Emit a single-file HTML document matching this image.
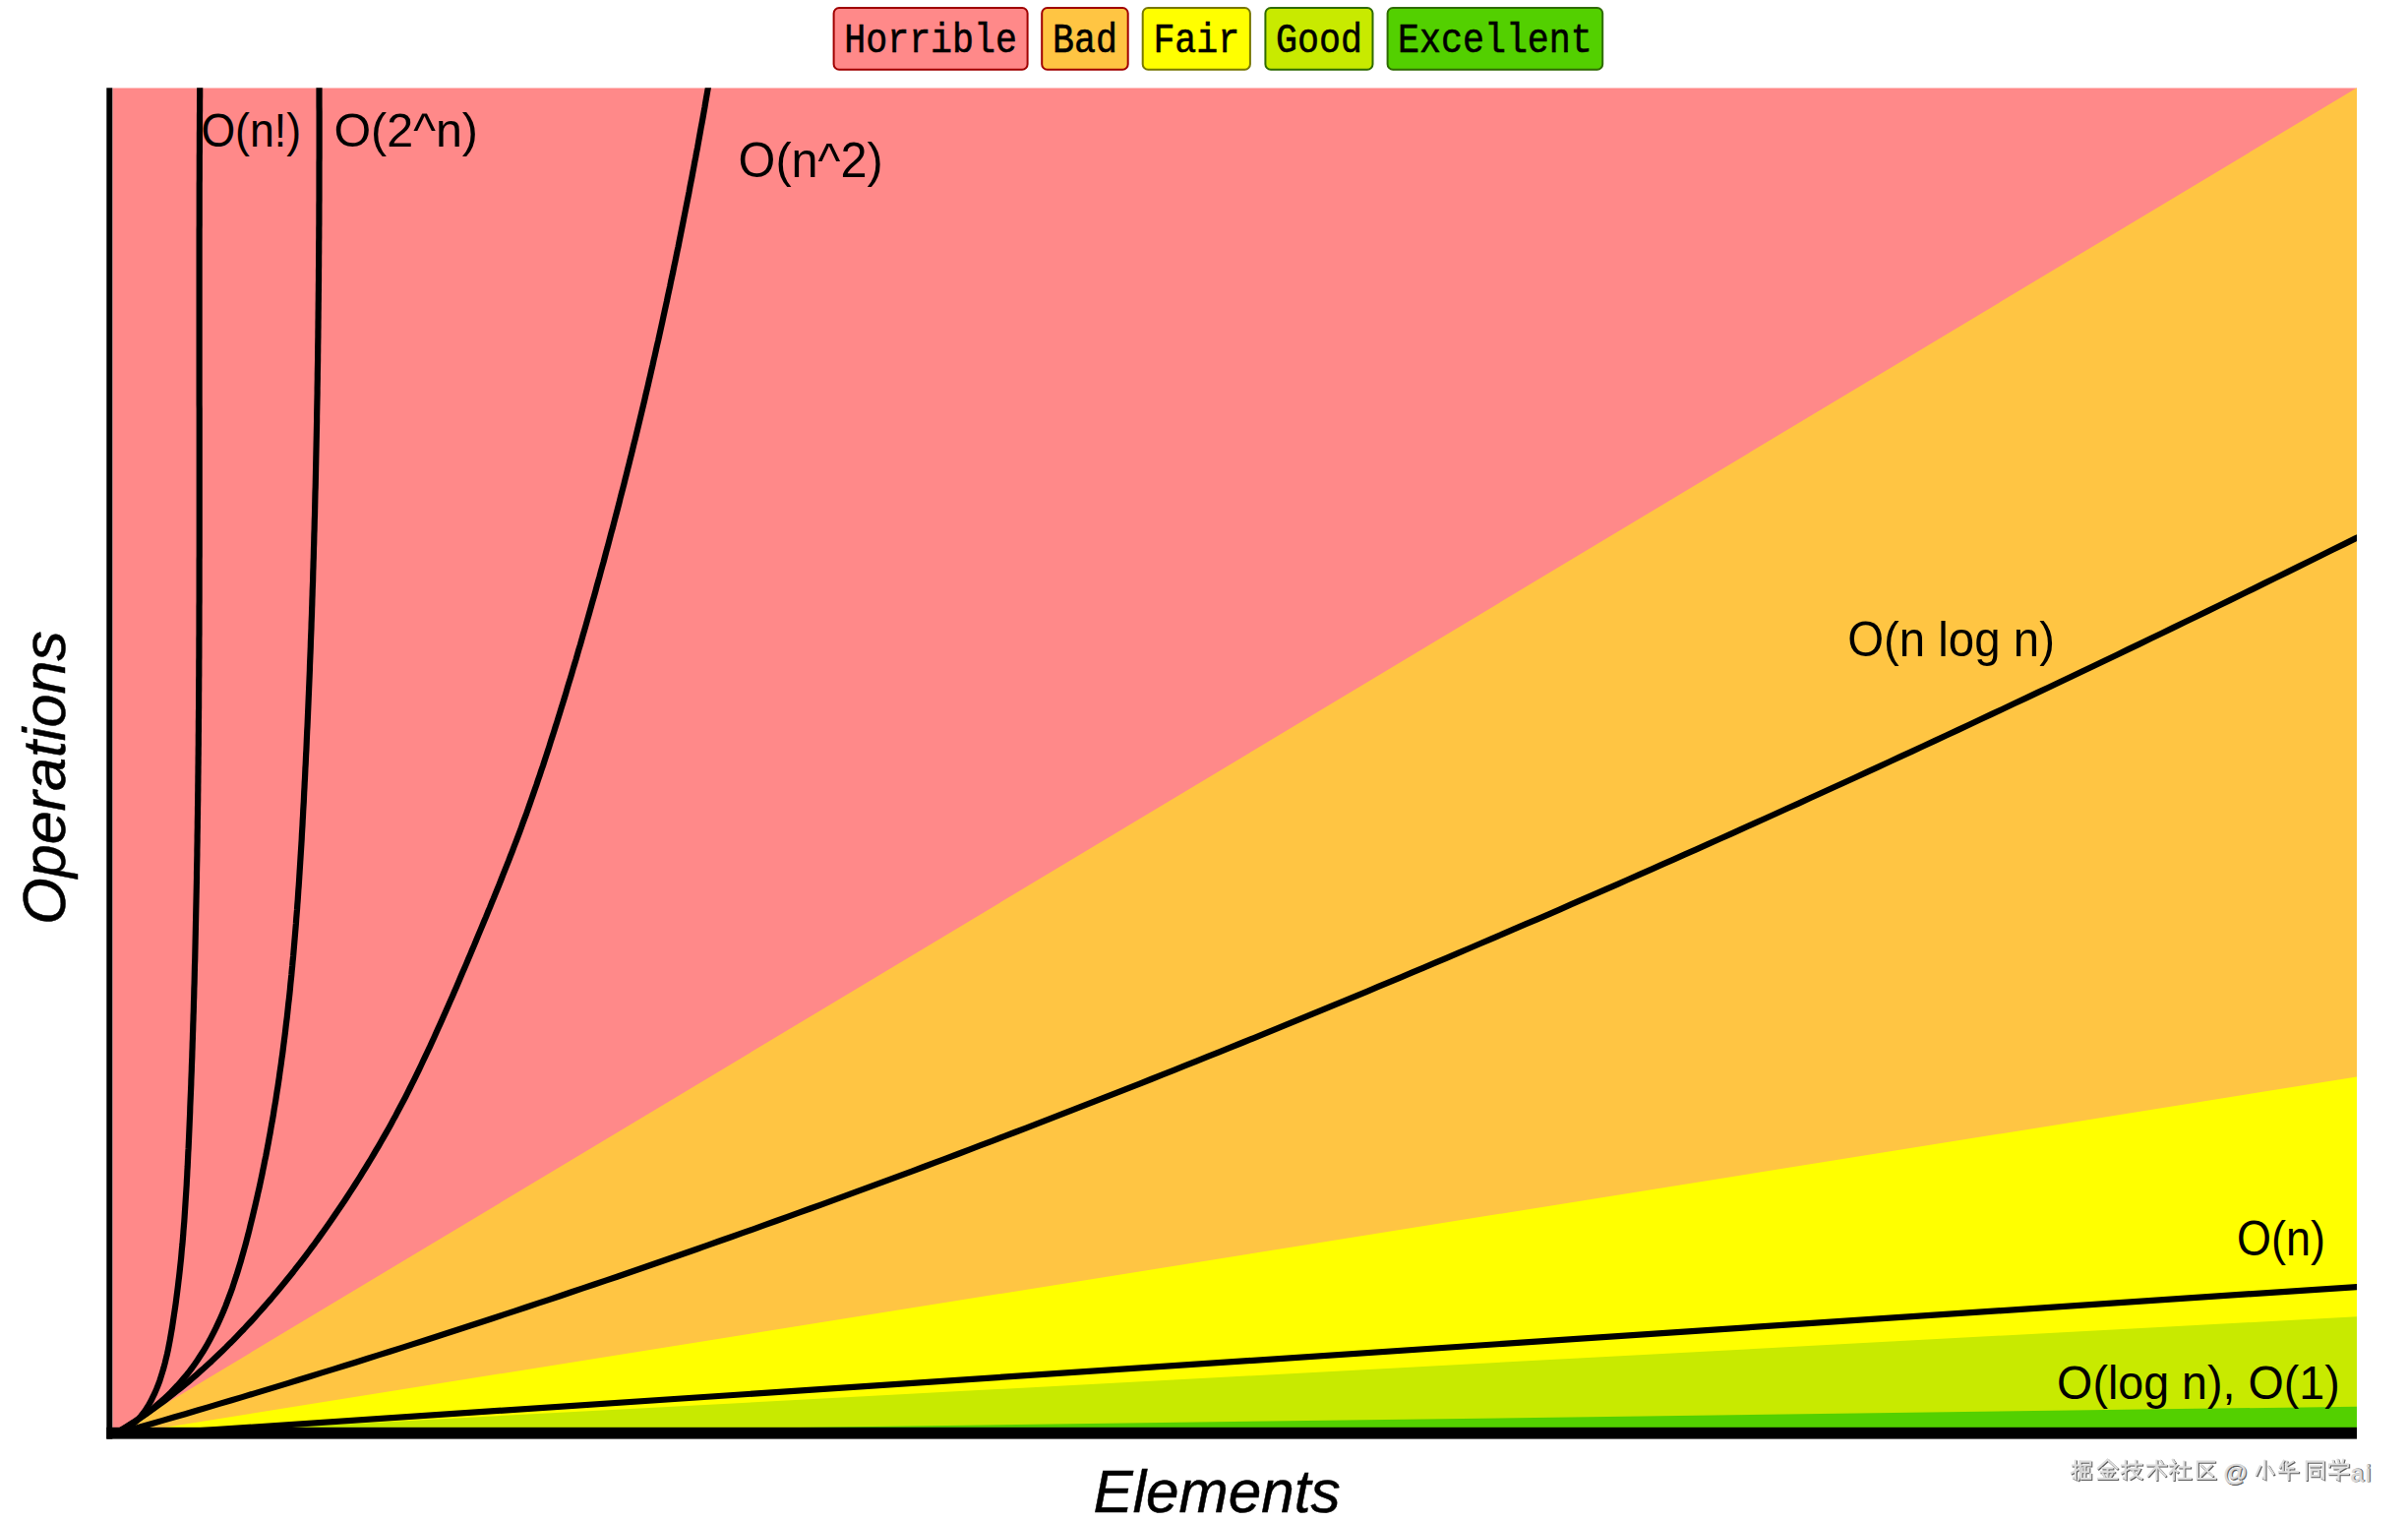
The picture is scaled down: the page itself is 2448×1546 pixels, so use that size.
<!DOCTYPE html>
<html><head><meta charset="utf-8"><style>
html,body{margin:0;padding:0;background:#fff;width:2448px;height:1546px;overflow:hidden;position:relative}
.fs{font-family:"Liberation Sans",sans-serif}
.fm{font-family:"Liberation Mono",monospace}
</style></head><body>
<svg width="2448" height="1546" viewBox="0 0 2448 1546" style="position:absolute;left:0;top:0">
<defs><clipPath id="cl"><rect x="114.3" y="89.3" width="2281.7" height="1361.7"/></clipPath></defs>
<g clip-path="url(#cl)">
<rect x="114.3" y="89.3" width="2281.7" height="1361.7" fill="#ff8989"/>
<polygon points="103,1466 2416,77.3 2416,1466" fill="#ffc543"/>
<polygon points="73.1,1466 2416,1091.2 2416,1466" fill="#ffff00"/>
<polygon points="4.6,1466 2416,1337.2 2416,1466" fill="#c8ea00"/>
<polygon points="-300.9,1466 2416,1429.4 2416,1466" fill="#53d000"/>
<g fill="none" stroke="#000" stroke-width="6.2" stroke-linejoin="round">
<path d="M112 1460 L116.5 1458.1 L120.8 1456 L125.1 1453.8 L129.2 1451.4 L133.1 1448.8 L136.7 1445.9 L140.1 1442.8 L143.2 1439.5 L146 1436 L148.6 1432.2 L151 1428.3 L153.3 1424.3 L155.3 1420.2 L157.3 1416.1 L159.1 1411.9 L160.8 1407.6 L162.4 1403.3 L163.8 1398.9 L165.2 1394.4 L166.5 1390 L167.7 1385.5 L168.8 1380.9 L169.9 1376.4 L170.9 1371.8 L171.8 1367.2 L172.7 1362.5 L173.5 1357.9 L174.3 1353.2 L175.1 1348.6 L175.8 1343.9 L176.5 1339.3 L177.2 1334.6 L177.9 1330 L178.6 1325.3 L179.2 1320.7 L179.8 1316 L180.4 1311.4 L181 1306.7 L181.5 1302.1 L182.1 1297.4 L182.6 1292.8 L183.1 1288.1 L183.6 1283.5 L184.1 1278.8 L184.5 1274.2 L184.9 1269.5 L185.4 1264.9 L185.8 1260.2 L186.2 1255.6 L186.5 1250.9 L186.9 1246.3 L187.3 1241.6 L187.6 1237 L187.9 1232.3 L188.2 1227.7 L188.5 1223 L188.8 1218.4 L189.1 1213.7 L189.4 1209.1 L189.7 1204.4 L189.9 1199.8 L190.2 1195.1 L190.4 1190.4 L190.7 1185.8 L190.9 1181.1 L191.1 1176.5 L191.3 1171.8 L191.6 1167.2 L191.8 1162.5 L192 1157.9 L192.2 1153.2 L192.4 1148.6 L192.6 1143.9 L192.8 1139.2 L193 1134.6 L193.2 1129.9 L193.3 1125.3 L193.5 1120.6 L193.7 1116 L193.9 1111.3 L194.1 1106.6 L194.3 1102 L194.4 1097.3 L194.6 1092.7 L194.8 1088 L194.9 1083.4 L195.1 1078.7 L195.3 1074 L195.4 1069.4 L195.6 1064.7 L195.7 1060.1 L195.9 1055.4 L196 1050.7 L196.2 1046.1 L196.3 1041.4 L196.5 1036.7 L196.6 1032.1 L196.8 1027.4 L196.9 1022.8 L197 1018.1 L197.2 1013.4 L197.3 1008.8 L197.4 1004.1 L197.6 999.4 L197.7 994.8 L197.8 990.1 L197.9 985.5 L198 980.8 L198.2 976.1 L198.3 971.5 L198.4 966.8 L198.5 962.1 L198.6 957.5 L198.7 952.8 L198.8 948.1 L198.9 943.5 L199 938.8 L199.1 934.1 L199.2 929.5 L199.3 924.8 L199.4 920.1 L199.5 915.5 L199.6 910.8 L199.7 906.1 L199.8 901.5 L199.9 896.8 L200 892.1 L200 887.5 L200.1 882.8 L200.2 878.1 L200.3 873.5 L200.4 868.8 L200.4 864.1 L200.5 859.5 L200.6 854.8 L200.6 850.1 L200.7 845.4 L200.8 840.8 L200.8 836.1 L200.9 831.4 L201 826.8 L201 822.1 L201.1 817.4 L201.2 812.8 L201.2 808.1 L201.3 803.4 L201.3 798.7 L201.4 794.1 L201.4 789.4 L201.5 784.7 L201.5 780.1 L201.6 775.4 L201.6 770.7 L201.7 766.1 L201.7 761.4 L201.8 756.7 L201.8 752 L201.8 747.4 L201.9 742.7 L201.9 738 L201.9 733.4 L202 728.7 L202 724 L202.1 719.3 L202.1 714.7 L202.1 710 L202.1 705.3 L202.2 700.6 L202.2 696 L202.2 691.3 L202.3 686.6 L202.3 682 L202.3 677.3 L202.3 672.6 L202.4 667.9 L202.4 663.3 L202.4 658.6 L202.4 653.9 L202.4 649.3 L202.5 644.6 L202.5 639.9 L202.5 635.2 L202.5 630.6 L202.5 625.9 L202.5 621.2 L202.5 616.5 L202.6 611.9 L202.6 607.2 L202.6 602.5 L202.6 597.9 L202.6 593.2 L202.6 588.5 L202.6 583.8 L202.6 579.2 L202.6 574.5 L202.6 569.8 L202.7 565.1 L202.7 560.5 L202.7 555.8 L202.7 551.1 L202.7 546.5 L202.7 541.8 L202.7 537.1 L202.7 532.4 L202.7 527.8 L202.7 523.1 L202.7 518.4 L202.7 513.7 L202.7 509.1 L202.7 504.4 L202.7 499.7 L202.7 495.1 L202.7 490.4 L202.7 485.7 L202.7 481 L202.7 476.4 L202.7 471.7 L202.7 467 L202.7 462.3 L202.7 457.7 L202.7 453 L202.7 448.3 L202.7 443.7 L202.7 439 L202.7 434.3 L202.7 429.6 L202.7 425 L202.7 420.3 L202.7 415.6 L202.6 411 L202.6 406.3 L202.6 401.6 L202.6 397 L202.6 392.3 L202.6 387.6 L202.6 382.9 L202.6 378.3 L202.6 373.6 L202.6 368.9 L202.6 364.3 L202.6 359.6 L202.6 354.9 L202.6 350.2 L202.6 345.6 L202.6 340.9 L202.6 336.2 L202.6 331.6 L202.6 326.9 L202.6 322.2 L202.6 317.6 L202.6 312.9 L202.6 308.2 L202.6 303.6 L202.6 298.9 L202.6 294.2 L202.6 289.6 L202.6 284.9 L202.6 280.2 L202.6 275.6 L202.6 270.9 L202.6 266.2 L202.6 261.6 L202.6 256.9 L202.6 252.2 L202.6 247.6 L202.6 242.9 L202.6 238.2 L202.6 233.6 L202.7 228.9 L202.7 224.2 L202.7 219.6 L202.7 214.9 L202.7 210.2 L202.7 205.6 L202.7 200.9 L202.7 196.2 L202.7 191.6 L202.7 186.9 L202.8 182.2 L202.8 177.6 L202.8 172.9 L202.8 168.3 L202.8 163.6 L202.8 158.9 L202.9 154.3 L202.9 149.6 L202.9 144.9 L202.9 140.3 L202.9 135.6 L203 131 L203 126.3 L203 121.6 L203 117 L203.1 112.3 L203.1 107.7 L203.1 103 L203.2 98.3 L203.2 93.7 L203.2 89 L203.6 29"/>
<path d="M112 1460 L116.3 1457.7 L120.5 1455.4 L124.6 1453 L128.7 1450.5 L132.8 1447.9 L136.8 1445.3 L140.8 1442.6 L144.7 1439.8 L148.6 1437 L152.4 1434 L156.1 1431.1 L159.8 1428 L163.4 1424.9 L166.9 1421.7 L170.4 1418.4 L173.8 1415.1 L177.1 1411.7 L180.4 1408.2 L183.5 1404.7 L186.6 1401.1 L189.7 1397.5 L192.6 1393.8 L195.5 1390 L198.2 1386.2 L200.9 1382.3 L203.5 1378.3 L206.1 1374.3 L208.5 1370.3 L210.9 1366.2 L213.2 1362.1 L215.4 1357.9 L217.6 1353.6 L219.7 1349.4 L221.7 1345.1 L223.7 1340.7 L225.6 1336.4 L227.5 1332 L229.3 1327.6 L231 1323.1 L232.7 1318.7 L234.4 1314.2 L236 1309.7 L237.5 1305.1 L239 1300.6 L240.5 1296.1 L241.9 1291.5 L243.3 1286.9 L244.7 1282.3 L246 1277.7 L247.3 1273.1 L248.6 1268.5 L249.9 1263.8 L251.1 1259.2 L252.3 1254.6 L253.5 1249.9 L254.6 1245.3 L255.8 1240.6 L256.9 1236 L258 1231.3 L259.1 1226.7 L260.2 1222 L261.3 1217.3 L262.3 1212.7 L263.4 1208 L264.4 1203.3 L265.4 1198.7 L266.4 1194 L267.3 1189.3 L268.3 1184.6 L269.2 1179.9 L270.2 1175.3 L271.1 1170.6 L272 1165.9 L272.9 1161.2 L273.7 1156.5 L274.6 1151.8 L275.4 1147.1 L276.2 1142.4 L277.1 1137.7 L277.9 1133 L278.6 1128.3 L279.4 1123.6 L280.2 1118.9 L280.9 1114.2 L281.6 1109.5 L282.4 1104.7 L283.1 1100 L283.8 1095.3 L284.4 1090.6 L285.1 1085.9 L285.8 1081.1 L286.4 1076.4 L287.1 1071.7 L287.7 1067 L288.3 1062.2 L288.9 1057.5 L289.5 1052.8 L290.1 1048 L290.6 1043.3 L291.2 1038.5 L291.8 1033.8 L292.3 1029.1 L292.8 1024.3 L293.3 1019.6 L293.9 1014.8 L294.4 1010.1 L294.9 1005.3 L295.3 1000.6 L295.8 995.8 L296.3 991.1 L296.7 986.3 L297.2 981.6 L297.6 976.8 L298.1 972.1 L298.5 967.3 L298.9 962.6 L299.3 957.8 L299.7 953 L300.1 948.3 L300.5 943.5 L300.9 938.8 L301.2 934 L301.6 929.2 L302 924.5 L302.3 919.7 L302.7 914.9 L303 910.2 L303.3 905.4 L303.7 900.6 L304 895.9 L304.3 891.1 L304.6 886.3 L304.9 881.6 L305.2 876.8 L305.5 872 L305.8 867.2 L306.1 862.5 L306.4 857.7 L306.7 852.9 L306.9 848.2 L307.2 843.4 L307.5 838.6 L307.7 833.8 L308 829.1 L308.2 824.3 L308.5 819.5 L308.8 814.7 L309 810 L309.2 805.2 L309.5 800.4 L309.7 795.6 L310 790.9 L310.2 786.1 L310.4 781.3 L310.7 776.6 L310.9 771.8 L311.1 767 L311.4 762.2 L311.6 757.5 L311.8 752.7 L312 747.9 L312.2 743.1 L312.5 738.4 L312.7 733.6 L312.9 728.8 L313.1 724 L313.3 719.3 L313.5 714.5 L313.7 709.7 L313.9 705 L314.1 700.2 L314.3 695.4 L314.5 690.6 L314.7 685.9 L314.9 681.1 L315 676.3 L315.2 671.5 L315.4 666.8 L315.6 662 L315.8 657.2 L315.9 652.4 L316.1 647.7 L316.3 642.9 L316.5 638.1 L316.6 633.4 L316.8 628.6 L317 623.8 L317.1 619 L317.3 614.3 L317.4 609.5 L317.6 604.7 L317.7 599.9 L317.9 595.2 L318.1 590.4 L318.2 585.6 L318.3 580.9 L318.5 576.1 L318.6 571.3 L318.8 566.5 L318.9 561.8 L319 557 L319.2 552.2 L319.3 547.4 L319.4 542.7 L319.6 537.9 L319.7 533.1 L319.8 528.3 L320 523.6 L320.1 518.8 L320.2 514 L320.3 509.3 L320.4 504.5 L320.5 499.7 L320.7 494.9 L320.8 490.2 L320.9 485.4 L321 480.6 L321.1 475.8 L321.2 471.1 L321.3 466.3 L321.4 461.5 L321.5 456.7 L321.6 452 L321.7 447.2 L321.8 442.4 L321.9 437.6 L322 432.9 L322.1 428.1 L322.1 423.3 L322.2 418.6 L322.3 413.8 L322.4 409 L322.5 404.2 L322.6 399.5 L322.6 394.7 L322.7 389.9 L322.8 385.1 L322.8 380.4 L322.9 375.6 L323 370.8 L323.1 366 L323.1 361.3 L323.2 356.5 L323.2 351.7 L323.3 346.9 L323.4 342.2 L323.4 337.4 L323.5 332.6 L323.5 327.8 L323.6 323.1 L323.6 318.3 L323.7 313.5 L323.7 308.7 L323.8 304 L323.8 299.2 L323.9 294.4 L323.9 289.6 L324 284.9 L324 280.1 L324 275.3 L324.1 270.5 L324.1 265.8 L324.1 261 L324.2 256.2 L324.2 251.4 L324.2 246.7 L324.3 241.9 L324.3 237.1 L324.3 232.3 L324.4 227.5 L324.4 222.8 L324.4 218 L324.4 213.2 L324.4 208.4 L324.5 203.7 L324.5 198.9 L324.5 194.1 L324.5 189.3 L324.5 184.6 L324.5 179.8 L324.5 175 L324.5 170.2 L324.5 165.4 L324.6 160.7 L324.6 155.9 L324.6 151.1 L324.6 146.3 L324.6 141.6 L324.6 136.8 L324.6 132 L324.6 127.2 L324.6 122.4 L324.6 117.7 L324.6 112.9 L324.5 108.1 L324.5 103.3 L324.5 98.5 L324.5 93.8 L324.5 89 L324.4 29"/>
<path d="M112 1460 L116.5 1457.4 L120.9 1454.8 L125.4 1452.1 L129.8 1449.4 L134.1 1446.7 L138.5 1443.9 L142.8 1441 L147 1438.2 L151.3 1435.2 L155.5 1432.3 L159.6 1429.3 L163.8 1426.3 L167.9 1423.2 L172 1420.1 L176.1 1416.9 L180.1 1413.7 L184.1 1410.5 L188 1407.3 L192 1404 L195.9 1400.7 L199.8 1397.3 L203.6 1393.9 L207.5 1390.5 L211.3 1387 L215.1 1383.6 L218.8 1380.1 L222.5 1376.5 L226.2 1373 L229.9 1369.4 L233.5 1365.7 L237.2 1362.1 L240.8 1358.4 L244.3 1354.7 L247.9 1351 L251.4 1347.2 L254.9 1343.5 L258.4 1339.7 L261.8 1335.8 L265.2 1332 L268.6 1328.1 L272 1324.3 L275.4 1320.4 L278.7 1316.4 L282 1312.5 L285.3 1308.5 L288.6 1304.5 L291.8 1300.5 L295.1 1296.5 L298.3 1292.5 L301.4 1288.4 L304.6 1284.4 L307.7 1280.3 L310.9 1276.2 L314 1272 L317 1267.9 L320.1 1263.8 L323.1 1259.6 L326.1 1255.4 L329.1 1251.2 L332.1 1247 L335.1 1242.8 L338 1238.6 L340.9 1234.3 L343.8 1230.1 L346.7 1225.8 L349.6 1221.5 L352.4 1217.2 L355.2 1212.9 L358 1208.6 L360.8 1204.3 L363.6 1199.9 L366.3 1195.6 L369 1191.2 L371.7 1186.8 L374.4 1182.4 L377.1 1178 L379.7 1173.6 L382.3 1169.2 L384.9 1164.8 L387.5 1160.3 L390 1155.9 L392.6 1151.4 L395.1 1146.9 L397.6 1142.4 L400 1137.9 L402.5 1133.4 L404.9 1128.8 L407.3 1124.3 L409.7 1119.8 L412.1 1115.2 L414.4 1110.6 L416.7 1106 L419 1101.4 L421.3 1096.8 L423.6 1092.2 L425.8 1087.6 L428 1083 L430.2 1078.3 L432.4 1073.7 L434.6 1069 L436.8 1064.4 L438.9 1059.7 L441.1 1055 L443.2 1050.3 L445.3 1045.6 L447.4 1040.9 L449.5 1036.2 L451.6 1031.5 L453.7 1026.8 L455.8 1022.1 L457.8 1017.4 L459.9 1012.7 L461.9 1008 L464 1003.2 L466 998.5 L468 993.8 L470 989 L472.1 984.3 L474.1 979.6 L476.1 974.8 L478.1 970.1 L480.1 965.3 L482.1 960.6 L484.1 955.8 L486 951.1 L488 946.4 L490 941.6 L492 936.8 L494 932.1 L495.9 927.3 L497.9 922.6 L499.8 917.8 L501.8 913.1 L503.7 908.3 L505.7 903.5 L507.6 898.8 L509.5 894 L511.4 889.2 L513.3 884.4 L515.2 879.6 L517.1 874.9 L518.9 870.1 L520.8 865.3 L522.6 860.5 L524.5 855.7 L526.3 850.9 L528.1 846.1 L529.9 841.2 L531.6 836.4 L533.4 831.6 L535.2 826.8 L536.9 821.9 L538.6 817.1 L540.3 812.2 L542 807.4 L543.7 802.5 L545.4 797.7 L547 792.8 L548.7 787.9 L550.3 783 L552 778.2 L553.6 773.3 L555.2 768.4 L556.8 763.5 L558.4 758.6 L559.9 753.7 L561.5 748.8 L563.1 743.9 L564.6 739 L566.2 734.1 L567.7 729.2 L569.2 724.3 L570.7 719.4 L572.3 714.4 L573.8 709.5 L575.3 704.6 L576.7 699.7 L578.2 694.7 L579.7 689.8 L581.2 684.9 L582.6 680 L584.1 675 L585.6 670.1 L587 665.1 L588.4 660.2 L589.9 655.3 L591.3 650.3 L592.7 645.4 L594.2 640.4 L595.6 635.5 L597 630.5 L598.4 625.6 L599.8 620.6 L601.2 615.7 L602.6 610.7 L604 605.8 L605.4 600.8 L606.7 595.9 L608.1 590.9 L609.5 586 L610.8 581 L612.2 576 L613.6 571.1 L614.9 566.1 L616.2 561.1 L617.6 556.2 L618.9 551.2 L620.2 546.2 L621.5 541.3 L622.9 536.3 L624.2 531.3 L625.5 526.3 L626.8 521.4 L628.1 516.4 L629.4 511.4 L630.6 506.4 L631.9 501.4 L633.2 496.5 L634.5 491.5 L635.7 486.5 L637 481.5 L638.2 476.5 L639.5 471.5 L640.7 466.5 L642 461.5 L643.2 456.5 L644.4 451.5 L645.7 446.5 L646.9 441.5 L648.1 436.5 L649.3 431.5 L650.5 426.5 L651.7 421.5 L652.9 416.5 L654.1 411.5 L655.3 406.5 L656.4 401.5 L657.6 396.5 L658.8 391.5 L659.9 386.5 L661.1 381.5 L662.2 376.5 L663.4 371.5 L664.5 366.4 L665.7 361.4 L666.8 356.4 L667.9 351.4 L669.1 346.4 L670.2 341.3 L671.3 336.3 L672.4 331.3 L673.5 326.3 L674.6 321.2 L675.7 316.2 L676.8 311.2 L677.9 306.2 L678.9 301.1 L680 296.1 L681.1 291.1 L682.1 286 L683.2 281 L684.3 276 L685.3 270.9 L686.4 265.9 L687.4 260.9 L688.4 255.8 L689.5 250.8 L690.5 245.7 L691.5 240.7 L692.5 235.6 L693.5 230.6 L694.5 225.6 L695.5 220.5 L696.5 215.5 L697.5 210.4 L698.5 205.4 L699.5 200.3 L700.5 195.3 L701.4 190.2 L702.4 185.2 L703.4 180.1 L704.3 175.1 L705.3 170 L706.2 164.9 L707.2 159.9 L708.1 154.8 L709.1 149.8 L710 144.7 L710.9 139.6 L711.8 134.6 L712.7 129.5 L713.7 124.4 L714.6 119.4 L715.5 114.3 L716.4 109.3 L717.2 104.2 L718.1 99.1 L719 94 L719.9 89 L730.2 29.9"/>
<path d="M107.5 1460.5 L119.1 1457.2 L130.6 1453.9 L142.2 1450.6 L153.7 1447.3 L165.3 1443.9 L176.8 1440.6 L188.4 1437.2 L199.9 1433.8 L211.5 1430.4 L223 1426.9 L234.6 1423.5 L246.1 1420.1 L257.7 1416.6 L269.2 1413.1 L280.8 1409.6 L292.3 1406.1 L303.9 1402.5 L315.4 1399 L327 1395.4 L338.5 1391.9 L350.1 1388.3 L361.6 1384.7 L373.2 1381 L384.7 1377.4 L396.3 1373.8 L407.8 1370.1 L419.4 1366.4 L430.9 1362.7 L442.5 1359 L454 1355.3 L465.6 1351.5 L477.1 1347.8 L488.7 1344 L500.2 1340.2 L511.8 1336.4 L523.3 1332.6 L534.9 1328.8 L546.4 1324.9 L558 1321.1 L569.5 1317.2 L581.1 1313.3 L592.6 1309.4 L604.2 1305.5 L615.7 1301.6 L627.3 1297.7 L638.8 1293.7 L650.4 1289.7 L661.9 1285.7 L673.5 1281.7 L685 1277.7 L696.6 1273.7 L708.1 1269.7 L719.7 1265.6 L731.2 1261.5 L742.8 1257.5 L754.3 1253.4 L765.9 1249.3 L777.4 1245.1 L789 1241 L800.5 1236.8 L812.1 1232.7 L823.6 1228.5 L835.2 1224.3 L846.7 1220.1 L858.3 1215.9 L869.8 1211.7 L881.4 1207.4 L892.9 1203.2 L904.5 1198.9 L916 1194.6 L927.6 1190.3 L939.1 1186 L950.7 1181.7 L962.2 1177.3 L973.8 1173 L985.3 1168.6 L996.9 1164.2 L1008.4 1159.8 L1020 1155.4 L1031.5 1151 L1043.1 1146.6 L1054.6 1142.1 L1066.2 1137.7 L1077.7 1133.2 L1089.3 1128.7 L1100.8 1124.2 L1112.4 1119.7 L1123.9 1115.2 L1135.5 1110.7 L1147 1106.1 L1158.6 1101.6 L1170.1 1097 L1181.7 1092.4 L1193.2 1087.8 L1204.8 1083.2 L1216.3 1078.6 L1227.9 1073.9 L1239.4 1069.3 L1251 1064.6 L1262.5 1060 L1274.1 1055.3 L1285.6 1050.6 L1297.2 1045.9 L1308.7 1041.1 L1320.3 1036.4 L1331.8 1031.7 L1343.4 1026.9 L1354.9 1022.1 L1366.5 1017.4 L1378 1012.6 L1389.6 1007.8 L1401.1 1002.9 L1412.7 998.1 L1424.2 993.3 L1435.8 988.4 L1447.3 983.6 L1458.9 978.7 L1470.4 973.8 L1482 968.9 L1493.5 964 L1505.1 959 L1516.6 954.1 L1528.2 949.2 L1539.7 944.2 L1551.3 939.2 L1562.8 934.3 L1574.4 929.3 L1585.9 924.3 L1597.5 919.2 L1609 914.2 L1620.6 909.2 L1632.1 904.1 L1643.7 899.1 L1655.2 894 L1666.8 888.9 L1678.3 883.8 L1689.9 878.7 L1701.4 873.6 L1713 868.4 L1724.5 863.3 L1736.1 858.2 L1747.6 853 L1759.2 847.8 L1770.7 842.6 L1782.3 837.4 L1793.8 832.2 L1805.4 827 L1816.9 821.8 L1828.5 816.6 L1840 811.3 L1851.6 806 L1863.1 800.8 L1874.7 795.5 L1886.2 790.2 L1897.8 784.9 L1909.3 779.6 L1920.9 774.3 L1932.4 768.9 L1944 763.6 L1955.5 758.2 L1967.1 752.9 L1978.6 747.5 L1990.2 742.1 L2001.7 736.7 L2013.3 731.3 L2024.8 725.9 L2036.4 720.5 L2047.9 715 L2059.5 709.6 L2071 704.1 L2082.6 698.7 L2094.1 693.2 L2105.7 687.7 L2117.2 682.2 L2128.8 676.7 L2140.3 671.2 L2151.9 665.7 L2163.4 660.1 L2175 654.6 L2186.5 649 L2198.1 643.5 L2209.6 637.9 L2221.2 632.3 L2232.7 626.7 L2244.3 621.1 L2255.8 615.5 L2267.4 609.9 L2278.9 604.2 L2290.5 598.6 L2302 592.9 L2313.6 587.3 L2325.1 581.6 L2336.7 575.9 L2348.2 570.2 L2359.8 564.5 L2371.3 558.8 L2382.9 553.1 L2394.4 547.4 L2406 541.7"/>
<line x1="107.5" y1="1460.5" x2="2416.0" y2="1306.7"/>
</g>
</g>
<rect x="108.3" y="89.3" width="6" height="1373.3" fill="#000"/>
<rect x="108.3" y="1450.8" width="2287.7" height="11.8" fill="#000"/>
<text transform="translate(204.38 148.76) scale(0.9113 0.9844)" class="fs" font-size="49">O(n!)</text>
<text transform="translate(339.42 148.76) scale(0.9888 0.9844)" class="fs" font-size="49">O(2^n)</text>
<text transform="translate(750.62 180.11) scale(0.9916 1.0089)" class="fs" font-size="49">O(n^2)</text>
<text transform="translate(1878.16 667.17) scale(0.9676 1.0133)" class="fs" font-size="49">O(n log n)</text>
<text transform="translate(2274.07 1276.40) scale(0.9161 1.0200)" class="fs" font-size="49">O(n)</text>
<text transform="translate(2091.10 1421.83) scale(0.9519 0.9867)" class="fs" font-size="49">O(log n), O(1)</text>
<text transform="translate(1111.59 1536.60) scale(1.0036 1.0140)" class="fs" font-size="60" font-style="italic" stroke="#000" stroke-width="0.5">Elements</text>
<text transform="translate(65.64 939.76) rotate(-90) scale(0.9394 0.9433)" class="fs" font-size="65" font-style="italic" stroke="#000" stroke-width="0.5">Operations</text>

<rect x="847.6" y="8" width="197.0" height="62.7" rx="5.5" fill="#ff8989" stroke="#a00000" stroke-width="2"/><text transform="translate(946.1 52.8) scale(1 1.16)" text-anchor="middle" class="fm" font-size="36.6" stroke="#000" stroke-width="0.5">Horrible</text>
<rect x="1059.2" y="8" width="87.5" height="62.7" rx="5.5" fill="#ffc543" stroke="#a00000" stroke-width="2"/><text transform="translate(1103.0 52.8) scale(1 1.16)" text-anchor="middle" class="fm" font-size="36.6" stroke="#000" stroke-width="0.5">Bad</text>
<rect x="1161.7" y="8" width="109.2" height="62.7" rx="5.5" fill="#ffff00" stroke="#777700" stroke-width="2"/><text transform="translate(1216.3 52.8) scale(1 1.16)" text-anchor="middle" class="fm" font-size="36.6" stroke="#000" stroke-width="0.5">Fair</text>
<rect x="1286.4" y="8" width="109.1" height="62.7" rx="5.5" fill="#c8ea00" stroke="#2e6b00" stroke-width="2"/><text transform="translate(1341.0 52.8) scale(1 1.16)" text-anchor="middle" class="fm" font-size="36.6" stroke="#000" stroke-width="0.5">Good</text>
<rect x="1410.6" y="8" width="218.6" height="62.7" rx="5.5" fill="#53d000" stroke="#2e6b00" stroke-width="2"/><text transform="translate(1519.9 52.8) scale(1 1.16)" text-anchor="middle" class="fm" font-size="36.6" stroke="#000" stroke-width="0.5">Excellent</text>

<g opacity="1"><g transform="translate(0.9 0.9)" fill="none" stroke="#5a5a5a" stroke-width="2.4" stroke-linecap="square"><path transform="translate(2105.1 1482.8) scale(0.96)" d="M2 7 L8 7"/><path transform="translate(2105.1 1482.8) scale(0.96)" d="M5 2 L5 21 L3 20"/><path transform="translate(2105.1 1482.8) scale(0.96)" d="M1 15 L8 11"/><path transform="translate(2105.1 1482.8) scale(0.96)" d="M10 3 L21 3 L21 7 L10 7"/><path transform="translate(2105.1 1482.8) scale(0.96)" d="M10 3 L10 14 Q10 19 8 22"/><path transform="translate(2105.1 1482.8) scale(0.96)" d="M15 8 L15 21"/><path transform="translate(2105.1 1482.8) scale(0.96)" d="M12 10 L12 14 L19 14 L19 10"/><path transform="translate(2105.1 1482.8) scale(0.96)" d="M11 16 L11 21 L21 21 L21 16"/><path transform="translate(2131.0 1482.8) scale(0.96)" d="M12 1 L2 10"/><path transform="translate(2131.0 1482.8) scale(0.96)" d="M12 1 L22 10"/><path transform="translate(2131.0 1482.8) scale(0.96)" d="M7 10 L17 10"/><path transform="translate(2131.0 1482.8) scale(0.96)" d="M5 14 L19 14"/><path transform="translate(2131.0 1482.8) scale(0.96)" d="M12 10 L12 21"/><path transform="translate(2131.0 1482.8) scale(0.96)" d="M7 16 L9 19"/><path transform="translate(2131.0 1482.8) scale(0.96)" d="M17 16 L15 19"/><path transform="translate(2131.0 1482.8) scale(0.96)" d="M2 21 L22 21"/><path transform="translate(2156.0 1482.8) scale(0.96)" d="M1 7 L8 7"/><path transform="translate(2156.0 1482.8) scale(0.96)" d="M5 2 L5 21 L3 20"/><path transform="translate(2156.0 1482.8) scale(0.96)" d="M1 15 L8 11"/><path transform="translate(2156.0 1482.8) scale(0.96)" d="M10 6 L22 6"/><path transform="translate(2156.0 1482.8) scale(0.96)" d="M16 2 L16 10"/><path transform="translate(2156.0 1482.8) scale(0.96)" d="M11 11 L20 11 Q17 18 10 21"/><path transform="translate(2156.0 1482.8) scale(0.96)" d="M13 13 Q16 19 22 21"/><path transform="translate(2181.0 1482.8) scale(0.96)" d="M2 7 L22 7"/><path transform="translate(2181.0 1482.8) scale(0.96)" d="M12 2 L12 22"/><path transform="translate(2181.0 1482.8) scale(0.96)" d="M11 9 L3 18"/><path transform="translate(2181.0 1482.8) scale(0.96)" d="M13 9 L21 18"/><path transform="translate(2181.0 1482.8) scale(0.96)" d="M16 2 L18 5"/><path transform="translate(2205.0 1482.8) scale(0.96)" d="M4 1 L6 4"/><path transform="translate(2205.0 1482.8) scale(0.96)" d="M1 7 L8 7 L1 15"/><path transform="translate(2205.0 1482.8) scale(0.96)" d="M5 11 L5 22"/><path transform="translate(2205.0 1482.8) scale(0.96)" d="M6 12 L9 14"/><path transform="translate(2205.0 1482.8) scale(0.96)" d="M11 9 L22 9"/><path transform="translate(2205.0 1482.8) scale(0.96)" d="M16 3 L16 21"/><path transform="translate(2205.0 1482.8) scale(0.96)" d="M10 21 L23 21"/><path transform="translate(2231.0 1482.8) scale(0.96)" d="M21 3 L3 3 L3 21 L22 21"/><path transform="translate(2231.0 1482.8) scale(0.96)" d="M7 7 L19 18"/><path transform="translate(2231.0 1482.8) scale(0.96)" d="M18 7 L7 18"/><path transform="translate(2291.0 1482.8) scale(0.96)" d="M12 2 L12 21 L10 20"/><path transform="translate(2291.0 1482.8) scale(0.96)" d="M7 8 L3 17"/><path transform="translate(2291.0 1482.8) scale(0.96)" d="M16 8 L21 16"/><path transform="translate(2315.0 1482.8) scale(0.96)" d="M7 2 L3 9"/><path transform="translate(2315.0 1482.8) scale(0.96)" d="M6 6 L6 12"/><path transform="translate(2315.0 1482.8) scale(0.96)" d="M10 3 L10 10 L17 10"/><path transform="translate(2315.0 1482.8) scale(0.96)" d="M17 3 L10 7"/><path transform="translate(2315.0 1482.8) scale(0.96)" d="M2 14 L22 14"/><path transform="translate(2315.0 1482.8) scale(0.96)" d="M12 11 L12 22"/><path transform="translate(2342.0 1482.8) scale(0.96)" d="M3 3 L3 22"/><path transform="translate(2342.0 1482.8) scale(0.96)" d="M3 3 L21 3 L21 21 L19 20"/><path transform="translate(2342.0 1482.8) scale(0.96)" d="M7 8 L17 8"/><path transform="translate(2342.0 1482.8) scale(0.96)" d="M8 12 L16 12 L16 18 L8 18 Z"/><path transform="translate(2366.0 1482.8) scale(0.96)" d="M6 2 L7 5"/><path transform="translate(2366.0 1482.8) scale(0.96)" d="M11 1 L12 4"/><path transform="translate(2366.0 1482.8) scale(0.96)" d="M17 1 L16 5"/><path transform="translate(2366.0 1482.8) scale(0.96)" d="M2 8 L2 6 L22 6 L22 8"/><path transform="translate(2366.0 1482.8) scale(0.96)" d="M7 10 L17 10 L12 13"/><path transform="translate(2366.0 1482.8) scale(0.96)" d="M12 13 L12 22 L10 21"/><path transform="translate(2366.0 1482.8) scale(0.96)" d="M2 16 L22 16"/></g><g transform="translate(0.9 0.9)" fill="#5a5a5a" stroke="#5a5a5a" stroke-width="0.8"><text x="2260" y="1505" font-size="24.5" class="fs">@</text><text x="2389.5" y="1505.5" font-size="24" letter-spacing="2" class="fs">ai</text></g><g fill="none" stroke="#dcdcdc" stroke-width="2.2" stroke-linecap="square"><path transform="translate(2105.1 1482.8) scale(0.96)" d="M2 7 L8 7"/><path transform="translate(2105.1 1482.8) scale(0.96)" d="M5 2 L5 21 L3 20"/><path transform="translate(2105.1 1482.8) scale(0.96)" d="M1 15 L8 11"/><path transform="translate(2105.1 1482.8) scale(0.96)" d="M10 3 L21 3 L21 7 L10 7"/><path transform="translate(2105.1 1482.8) scale(0.96)" d="M10 3 L10 14 Q10 19 8 22"/><path transform="translate(2105.1 1482.8) scale(0.96)" d="M15 8 L15 21"/><path transform="translate(2105.1 1482.8) scale(0.96)" d="M12 10 L12 14 L19 14 L19 10"/><path transform="translate(2105.1 1482.8) scale(0.96)" d="M11 16 L11 21 L21 21 L21 16"/><path transform="translate(2131.0 1482.8) scale(0.96)" d="M12 1 L2 10"/><path transform="translate(2131.0 1482.8) scale(0.96)" d="M12 1 L22 10"/><path transform="translate(2131.0 1482.8) scale(0.96)" d="M7 10 L17 10"/><path transform="translate(2131.0 1482.8) scale(0.96)" d="M5 14 L19 14"/><path transform="translate(2131.0 1482.8) scale(0.96)" d="M12 10 L12 21"/><path transform="translate(2131.0 1482.8) scale(0.96)" d="M7 16 L9 19"/><path transform="translate(2131.0 1482.8) scale(0.96)" d="M17 16 L15 19"/><path transform="translate(2131.0 1482.8) scale(0.96)" d="M2 21 L22 21"/><path transform="translate(2156.0 1482.8) scale(0.96)" d="M1 7 L8 7"/><path transform="translate(2156.0 1482.8) scale(0.96)" d="M5 2 L5 21 L3 20"/><path transform="translate(2156.0 1482.8) scale(0.96)" d="M1 15 L8 11"/><path transform="translate(2156.0 1482.8) scale(0.96)" d="M10 6 L22 6"/><path transform="translate(2156.0 1482.8) scale(0.96)" d="M16 2 L16 10"/><path transform="translate(2156.0 1482.8) scale(0.96)" d="M11 11 L20 11 Q17 18 10 21"/><path transform="translate(2156.0 1482.8) scale(0.96)" d="M13 13 Q16 19 22 21"/><path transform="translate(2181.0 1482.8) scale(0.96)" d="M2 7 L22 7"/><path transform="translate(2181.0 1482.8) scale(0.96)" d="M12 2 L12 22"/><path transform="translate(2181.0 1482.8) scale(0.96)" d="M11 9 L3 18"/><path transform="translate(2181.0 1482.8) scale(0.96)" d="M13 9 L21 18"/><path transform="translate(2181.0 1482.8) scale(0.96)" d="M16 2 L18 5"/><path transform="translate(2205.0 1482.8) scale(0.96)" d="M4 1 L6 4"/><path transform="translate(2205.0 1482.8) scale(0.96)" d="M1 7 L8 7 L1 15"/><path transform="translate(2205.0 1482.8) scale(0.96)" d="M5 11 L5 22"/><path transform="translate(2205.0 1482.8) scale(0.96)" d="M6 12 L9 14"/><path transform="translate(2205.0 1482.8) scale(0.96)" d="M11 9 L22 9"/><path transform="translate(2205.0 1482.8) scale(0.96)" d="M16 3 L16 21"/><path transform="translate(2205.0 1482.8) scale(0.96)" d="M10 21 L23 21"/><path transform="translate(2231.0 1482.8) scale(0.96)" d="M21 3 L3 3 L3 21 L22 21"/><path transform="translate(2231.0 1482.8) scale(0.96)" d="M7 7 L19 18"/><path transform="translate(2231.0 1482.8) scale(0.96)" d="M18 7 L7 18"/><path transform="translate(2291.0 1482.8) scale(0.96)" d="M12 2 L12 21 L10 20"/><path transform="translate(2291.0 1482.8) scale(0.96)" d="M7 8 L3 17"/><path transform="translate(2291.0 1482.8) scale(0.96)" d="M16 8 L21 16"/><path transform="translate(2315.0 1482.8) scale(0.96)" d="M7 2 L3 9"/><path transform="translate(2315.0 1482.8) scale(0.96)" d="M6 6 L6 12"/><path transform="translate(2315.0 1482.8) scale(0.96)" d="M10 3 L10 10 L17 10"/><path transform="translate(2315.0 1482.8) scale(0.96)" d="M17 3 L10 7"/><path transform="translate(2315.0 1482.8) scale(0.96)" d="M2 14 L22 14"/><path transform="translate(2315.0 1482.8) scale(0.96)" d="M12 11 L12 22"/><path transform="translate(2342.0 1482.8) scale(0.96)" d="M3 3 L3 22"/><path transform="translate(2342.0 1482.8) scale(0.96)" d="M3 3 L21 3 L21 21 L19 20"/><path transform="translate(2342.0 1482.8) scale(0.96)" d="M7 8 L17 8"/><path transform="translate(2342.0 1482.8) scale(0.96)" d="M8 12 L16 12 L16 18 L8 18 Z"/><path transform="translate(2366.0 1482.8) scale(0.96)" d="M6 2 L7 5"/><path transform="translate(2366.0 1482.8) scale(0.96)" d="M11 1 L12 4"/><path transform="translate(2366.0 1482.8) scale(0.96)" d="M17 1 L16 5"/><path transform="translate(2366.0 1482.8) scale(0.96)" d="M2 8 L2 6 L22 6 L22 8"/><path transform="translate(2366.0 1482.8) scale(0.96)" d="M7 10 L17 10 L12 13"/><path transform="translate(2366.0 1482.8) scale(0.96)" d="M12 13 L12 22 L10 21"/><path transform="translate(2366.0 1482.8) scale(0.96)" d="M2 16 L22 16"/></g><g fill="#dcdcdc" stroke="#dcdcdc" stroke-width="0.6"><text x="2260" y="1505" font-size="24.5" class="fs">@</text><text x="2389.5" y="1505.5" font-size="24" letter-spacing="2" class="fs">ai</text></g></g>
</svg>

</body></html>
